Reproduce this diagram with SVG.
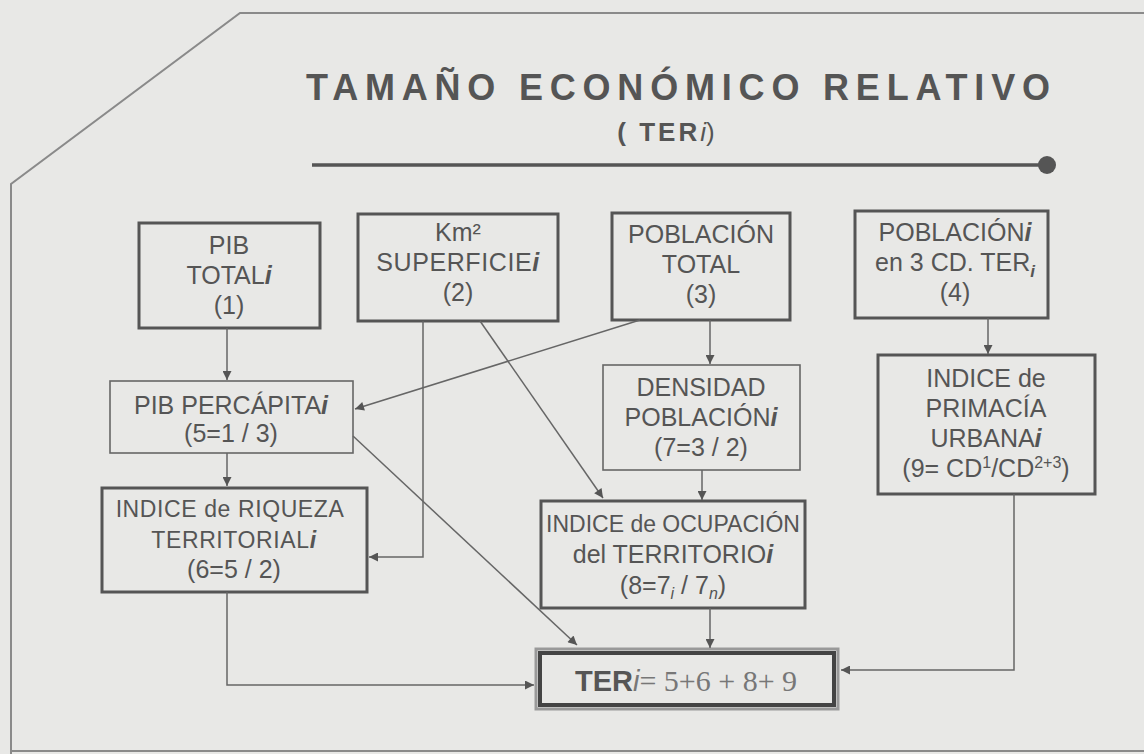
<svg xmlns="http://www.w3.org/2000/svg" width="1144" height="754" viewBox="0 0 1144 754">
<style>
  .bg{fill:#e8e8e6}
  .frame{fill:none;stroke:#8a8a8a;stroke-width:2}
  text{font-family:"Liberation Sans",Arial,sans-serif;fill:#555}
  .t{font-size:25px;text-anchor:middle}
  .s{font-size:23px;text-anchor:middle}
  .it{font-style:italic;font-weight:bold}
  .thin{fill:none;stroke:#666;stroke-width:1.6}
  .thick{fill:none;stroke:#555;stroke-width:3}
  .conn path{fill:none;stroke:#666;stroke-width:1.5}
</style>
<defs>
  <marker id="ah" viewBox="0 0 10 10" refX="10" refY="5" markerWidth="11" markerHeight="9" markerUnits="userSpaceOnUse" orient="auto">
    <path d="M0,0 L10,5 L0,10 z" fill="#555"/>
  </marker>
</defs>
<rect class="bg" x="0" y="0" width="1144" height="754"/>
<path class="frame" d="M1144,13 H240 L11,184 V754"/>
<path class="frame" d="M11,751 H1144"/>

<g id="title">
  <text x="306" y="100" style="font-size:36px;font-weight:bold" textLength="744" lengthAdjust="spacing">TAMAÑO ECONÓMICO RELATIVO</text>
  <text x="666" y="141" style="font-size:26px" text-anchor="middle"><tspan font-weight="bold" letter-spacing="3">( TER</tspan><tspan font-style="italic">i</tspan>)</text>
  <line x1="312" y1="165" x2="1042" y2="165" stroke="#555" stroke-width="3.5"/>
  <circle cx="1047" cy="165" r="9" fill="#555"/>
</g>

<g id="n1">
  <rect class="thick" x="139" y="223" width="181" height="105"/>
  <text class="t" x="229" y="254">PIB</text>
  <text class="t" x="229" y="284">TOTAL<tspan class="it">i</tspan></text>
  <text class="t" x="229" y="314">(1)</text>
</g>
<g id="n2">
  <rect class="thick" x="358" y="214" width="200" height="107"/>
  <text class="t" x="458" y="241">Km²</text>
  <text class="t" x="458" y="271" letter-spacing="0.6">SUPERFICIE<tspan class="it">i</tspan></text>
  <text class="t" x="458" y="301">(2)</text>
</g>
<g id="n3">
  <rect class="thick" x="612" y="213" width="178" height="107"/>
  <text class="t" x="701" y="243">POBLACIÓN</text>
  <text class="t" x="701" y="273">TOTAL</text>
  <text class="t" x="701" y="303">(3)</text>
</g>
<g id="n4">
  <rect class="thick" x="855" y="211" width="193" height="107"/>
  <text class="t" x="955" y="241">POBLACIÓN<tspan class="it">i</tspan></text>
  <text class="t" x="955" y="271">en 3 CD. TER<tspan class="it" style="font-size:17px" dy="6">i</tspan></text>
  <text class="t" x="955" y="301">(4)</text>
</g>
<g id="n5">
  <rect class="thin" x="110" y="381" width="243" height="72"/>
  <text class="t" x="231" y="414">PIB PERCÁPITA<tspan class="it">i</tspan></text>
  <text class="t" x="231" y="442">(5=1 / 3)</text>
</g>
<g id="n6">
  <rect class="thick" x="102" y="488" width="265" height="104"/>
  <text class="s" x="230" y="517" letter-spacing="0.6">INDICE de RIQUEZA</text>
  <text class="s" x="234" y="548" letter-spacing="0.6">TERRITORIAL<tspan class="it">i</tspan></text>
  <text class="t" x="234" y="578">(6=5 / 2)</text>
</g>
<g id="n7">
  <rect class="thin" x="603" y="365" width="197" height="105"/>
  <text class="t" x="701" y="396">DENSIDAD</text>
  <text class="t" x="701" y="426">POBLACIÓN<tspan class="it">i</tspan></text>
  <text class="t" x="701" y="456">(7=3 / 2)</text>
</g>
<g id="n8">
  <rect class="thick" x="541" y="501" width="264" height="107"/>
  <text class="t" x="673" y="532" style="font-size:23px">INDICE de OCUPACIÓN</text>
  <text class="t" x="673" y="563">del TERRITORIO<tspan class="it">i</tspan></text>
  <text class="t" x="673" y="594">(8=7<tspan style="font-size:16px;font-style:italic" dy="5">i</tspan><tspan dy="-5"> / 7</tspan><tspan style="font-size:16px;font-style:italic" dy="5">n</tspan><tspan dy="-5">)</tspan></text>
</g>
<g id="n9">
  <rect class="thick" x="878" y="355" width="217" height="139"/>
  <text class="t" x="986" y="387">INDICE de</text>
  <text class="t" x="986" y="417">PRIMACÍA</text>
  <text class="t" x="986" y="447">URBANA<tspan class="it">i</tspan></text>
  <text class="t" x="986" y="477">(9= CD<tspan style="font-size:16px" dy="-9">1</tspan><tspan dy="9">/CD</tspan><tspan style="font-size:16px" dy="-9">2+3</tspan><tspan dy="9">)</tspan></text>
</g>
<g id="n10">
  <rect x="536" y="649" width="302" height="60" fill="none" stroke="#999" stroke-width="3"/>
  <rect x="540" y="653" width="294" height="52" fill="none" stroke="#444" stroke-width="4"/>
  <text x="686" y="691" text-anchor="middle" style="font-size:29px"><tspan font-weight="bold">TER</tspan><tspan font-style="italic" style="fill:#777">i</tspan><tspan style="font-family:'Liberation Serif',serif;fill:#777;font-size:30px">= 5+6 + 8+ 9</tspan></text>
</g>

<g id="connectors" class="conn">
  <path d="M227,328 V380" marker-end="url(#ah)"/>
  <path d="M640,320 L355,409" marker-end="url(#ah)"/>
  <path d="M423,321 V557 H369" marker-end="url(#ah)"/>
  <path d="M480,321 L603,498" marker-end="url(#ah)"/>
  <path d="M227,453 V486" marker-end="url(#ah)"/>
  <path d="M353,436 L577,645" marker-end="url(#ah)"/>
  <path d="M710,320 V364" marker-end="url(#ah)"/>
  <path d="M702,470 V500" marker-end="url(#ah)"/>
  <path d="M710,608 V648" marker-end="url(#ah)"/>
  <path d="M988,318 V354" marker-end="url(#ah)"/>
  <path d="M227,592 V685 H534" marker-end="url(#ah)"/>
  <path d="M1014,494 V670 H841" marker-end="url(#ah)"/>
</g>
</svg>
